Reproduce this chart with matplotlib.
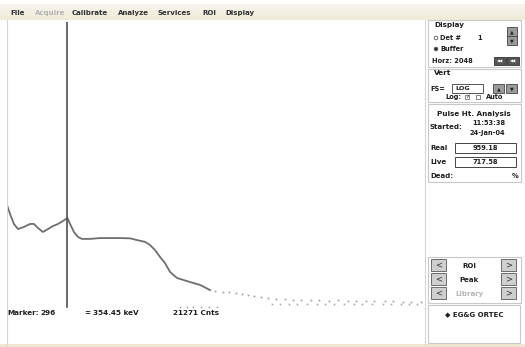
import matplotlib
matplotlib.use("Agg")
import matplotlib.pyplot as plt
from matplotlib.patches import Rectangle, Circle

W, H = 525, 347

# Spectrum trace (channel, counts) drawn as a line
channels = [0, 15, 34, 54, 83, 113, 132, 152, 176, 201, 225, 250, 274, 296,
            309, 328, 348, 367, 407, 456, 505, 554, 603, 642, 676, 701, 725,
            750, 774, 799, 833, 897, 946, 995]
counts = [33400, 24400, 17300, 14500, 15600, 17300, 17300, 15000, 13100,
          14500, 16100, 17300, 19200, 21271, 17300, 13100, 11000, 10300,
          10300, 10600, 10600, 10600, 10500, 9800, 9300, 8320, 7000, 5490,
          4460, 3260, 2650, 2300, 2080, 1740]

# Sparse high-channel region drawn as dots
tail_channels = [1020, 1060, 1090, 1120, 1150, 1180, 1210, 1245, 1280, 1320,
                 1360, 1400, 1440, 1490, 1530, 1580, 1620, 1670, 1710, 1760,
                 1800, 1850, 1890, 1940, 1980, 2030]
tail_counts = [1700, 1650, 1620, 1560, 1500, 1480, 1400, 1350, 1330, 1290,
               1270, 1250, 1240, 1230, 1220, 1210, 1215, 1200, 1190, 1195,
               1185, 1180, 1175, 1170, 1165, 1160]
base_channels = [850, 880, 910, 950, 990, 1030, 1300, 1340, 1380, 1420, 1470,
                 1520, 1560, 1600, 1650, 1700, 1740, 1790, 1840, 1880, 1930,
                 1970, 2010]
base_counts = [960, 970, 955, 965, 975, 960, 1060, 1070, 1065, 1075, 1060,
               1070, 1065, 1075, 1060, 1070, 1065, 1060, 1070, 1065, 1060,
               1070, 1065]

marker_channel = 296
marker_energy = 354.45
marker_counts = 21271
n_channels = 2048

menu_items = ["File", "Acquire", "Calibrate", "Analyze", "Services", "ROI", "Display"]
menu_x = [10, 35, 72, 118, 158, 202, 225]

fig = plt.figure(figsize=(W / 100, H / 100), dpi=100)
fig.patch.set_facecolor("white")

# spectrum window (pixel box x 7..425, y 22..310)
ax = fig.add_axes([7 / W, (H - 310) / H, 418 / W, 288 / H], zorder=1)
ax.set_yscale("log")
ax.set_xlim(0, n_channels)
ax.set_ylim(871, 1.93e7)
ax.axis("off")
ax.plot(channels, counts, color="#6e6e6e", lw=1.3, solid_joinstyle="round")
ax.plot(tail_channels, tail_counts, ls="none", marker="s", ms=1.2,
        color="#9a9a9a", mec="none")
ax.plot(base_channels, base_counts, ls="none", marker="s", ms=1.2,
        color="#a8a8a8", mec="none")
ax.axvline(marker_channel, ymin=(310 - 307) / 288, ymax=1.0,
           color="#505050", lw=1.2)

# overlay for window chrome, in pixel coordinates
ui = fig.add_axes([0, 0, 1, 1], zorder=2)
ui.set_xlim(0, W)
ui.set_ylim(H, 0)
ui.axis("off")

TXT = "#1e1e1e"
GRAY_TXT = "#b5b5b5"


def txt(x, y, s, size=5.0, color=TXT, weight="bold", ha="left"):
    ui.text(x, y, s, fontsize=size, fontweight=weight, color=color,
            ha=ha, va="center", family="DejaVu Sans")


def box(x0, y0, x1, y1, ec="#c8c8c8", fc="none", lw=0.8):
    ui.add_patch(Rectangle((x0, y0), x1 - x0, y1 - y0, ec=ec, fc=fc, lw=lw))


# menu bar
for i in range(8):
    shade = 1 - i / 7
    c = (0.965 * shade + 0.94 * (1 - shade),
         0.955 * shade + 0.92 * (1 - shade),
         0.93 * shade + 0.84 * (1 - shade))
    ui.add_patch(Rectangle((0, 4 + i * 2), W, 2, fc=c, ec="none"))
for name, x in zip(menu_items, menu_x):
    txt(x, 13, name, size=5.0,
        color=GRAY_TXT if name == "Acquire" else "#303030")

# borders of the display window
ui.plot([7, 7], [20, 345], color="#d6d6d6", lw=0.8)
ui.plot([425, 425], [20, 345], color="#d6d6d6", lw=0.8)
ui.add_patch(Rectangle((0, 344), W, 3, fc="#efe6d2", ec="none"))

# marker readout
txt(7, 313, "Marker:", size=5.2)
txt(40, 313, f"{marker_channel}", size=5.2)
txt(84, 313, "=", size=5.2)
txt(93, 313, f"{marker_energy:.2f} keV", size=5.2)
txt(173, 313, f"{marker_counts} Cnts", size=5.2)

# Display group
box(428, 20, 521, 67)
txt(434, 25, "Display", size=5.2)
ui.add_patch(Circle((436, 38), 1.8, fc="white", ec="#555", lw=0.6))
txt(440, 38, "Det #", size=4.8)
txt(477, 38, "1", size=4.8)
ui.add_patch(Circle((436, 49), 1.8, fc="#333", ec="#555", lw=0.6))
txt(440, 49, "Buffer", size=4.8)
txt(432, 61, "Horz: 2048", size=4.8)
for y0, g in ((27, "▲"), (36, "▼")):
    box(507, y0, 517, y0 + 9, ec="#444", fc="#9a9a9a", lw=0.6)
    ui.text(512, y0 + 4.6, g, fontsize=3.5, color="#222", ha="center", va="center")
for x0 in (494, 507):
    box(x0, 57, x0 + 12, 65, ec="#333", fc="#555555", lw=0.6)
    ui.text(x0 + 6, 61, "◀◀", fontsize=3, color="white", ha="center", va="center")

# Vert group
box(428, 69, 521, 102)
txt(434, 73, "Vert", size=5.2)
txt(430, 89, "FS=", size=4.8)
box(452, 84, 483, 93, ec="#555", fc="white", lw=0.7)
txt(455, 88.8, "LOG", size=4.6)
for x0, g in ((493, "▲"), (506, "▼")):
    box(x0, 84, x0 + 11, 93, ec="#444", fc="#9a9a9a", lw=0.6)
    ui.text(x0 + 5.5, 88.5, g, fontsize=3.5, color="#222", ha="center", va="center")
txt(445, 97, "Log:", size=4.8)
box(465, 95, 469, 99, ec="#555", fc="white", lw=0.5)
ui.text(467, 96.8, "✓", fontsize=4, color="#222", ha="center", va="center")
box(476, 95, 480, 99, ec="#555", fc="white", lw=0.5)
txt(486, 97, "Auto", size=4.8)

# Pulse height analysis group
box(428, 104, 521, 182)
txt(474, 114, "Pulse Ht. Analysis", size=5.2, ha="center")
txt(430, 127, "Started:", size=5.0)
txt(472, 123, "11:53:38", size=4.8)
txt(469, 133, "24-Jan-04", size=4.8)
txt(430, 148, "Real", size=5.0)
box(455, 143, 516, 153, ec="#444", fc="white", lw=0.7)
txt(485, 148, "959.18", size=4.8, ha="center")
txt(430, 162, "Live", size=5.0)
box(455, 157, 516, 167, ec="#444", fc="white", lw=0.7)
txt(485, 162, "717.58", size=4.8, ha="center")
txt(430, 176, "Dead:", size=5.0)
txt(512, 176, "%", size=4.8)

# ROI / Peak / Library navigation
box(428, 257, 521, 303)
for y0 in (259, 273, 287):
    for x0, g in ((431, "<"), (501, ">")):
        box(x0, y0, x0 + 15, y0 + 12, ec="#6c6c6c", fc="#cfcfcf", lw=0.7)
        ui.text(x0 + 7.5, y0 + 6, g, fontsize=6, color="#333",
                ha="center", va="center")
txt(469, 266, "ROI", size=5.0, ha="center")
txt(469, 280, "Peak", size=5.0, ha="center")
txt(469, 294, "Library", size=5.0, ha="center", color=GRAY_TXT)

# vendor box
box(428, 305, 520, 343)
txt(474, 314, "◆ EG&G ORTEC", size=5.0, ha="center")

fig.savefig("out.png", dpi=100, facecolor="white")
